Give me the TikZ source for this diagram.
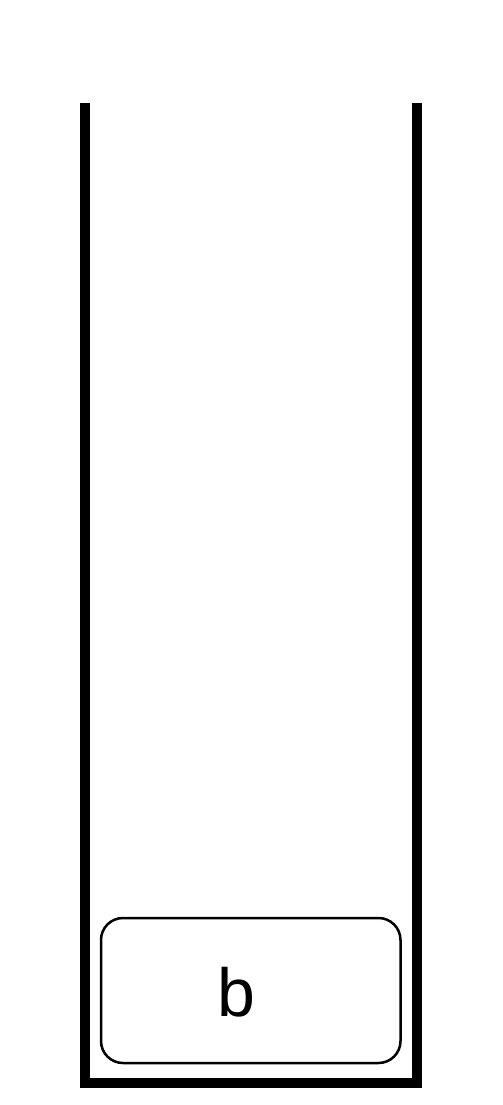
\documentclass[tikz,border=0pt]{standalone}
\usepackage{fontspec}
\setmainfont{Liberation Sans}
\begin{document}
\begin{tikzpicture}[x=1pt,y=-1pt,
  wall/.style={line width=10pt,line join=miter,line cap=butt},
  itembox/.style={draw,line width=2.5pt,rounded corners=22pt,minimum width=299.5pt,minimum height=145pt,inner sep=0pt},
  itemlabel/.style={font=\fontsize{68}{80}\selectfont,inner sep=0pt,anchor=base}]
\useasboundingbox (0,0) rectangle (503,1105);
\coordinate (tl) at (85,103);
\coordinate (bl) at (85,1082.7);
\coordinate (br) at (417,1082.7);
\coordinate (tr) at (417,103);
\draw[wall] (tl) -- (bl) -- (br) -- (tr);
\node[itembox] (box) at (250.75,990.5) {};
\node[itemlabel] (lab) at (236,1016.7) {b};
\end{tikzpicture}
\end{document}
